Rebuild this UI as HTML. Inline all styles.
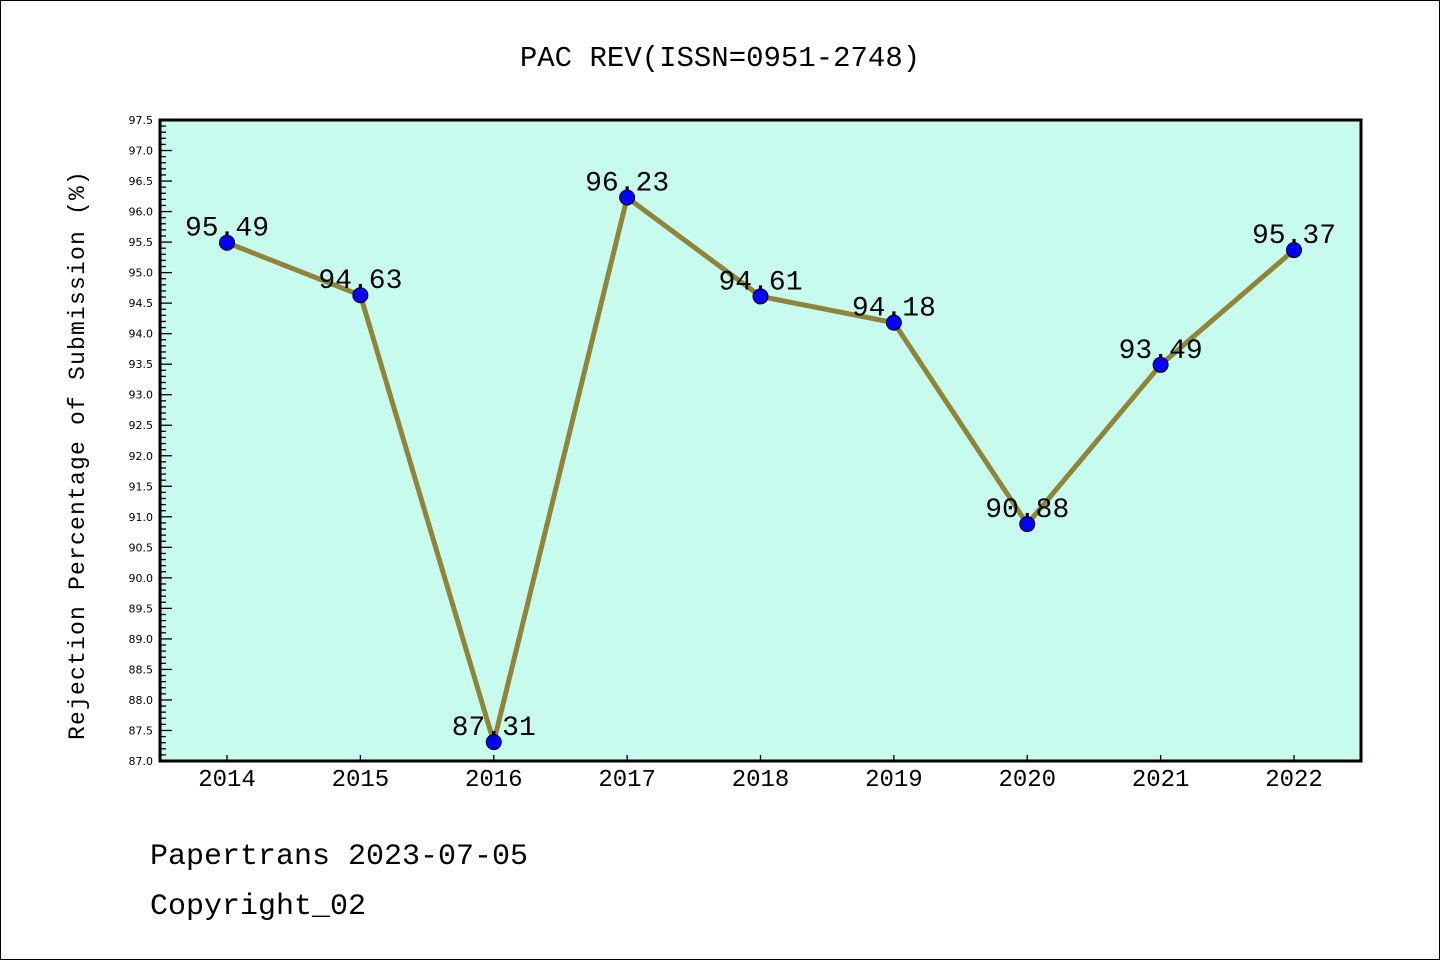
<!DOCTYPE html>
<html><head><meta charset="utf-8"><style>
html,body{margin:0;padding:0;background:#fff}
svg{display:block}
text{font-family:"Liberation Mono","WenQuanYi Zen Hei",monospace}
</style></head><body>
<svg id="chart" width="1440" height="960" viewBox="0 0 1440 960" xmlns="http://www.w3.org/2000/svg">
<rect x="0.5" y="0.5" width="1439" height="959" fill="#fff" stroke="#000" stroke-width="1"/>
<text x="720" y="66" text-anchor="middle" font-size="29">PAC REV(ISSN=0951-2748)</text>
<rect x="160" y="120" width="1201" height="641" fill="#c7fbee"/>
<g id="yticks"></g>
<g id="xticks"></g>
<g id="series"></g>
<rect x="160" y="120" width="1201" height="641" fill="none" stroke="#000" stroke-width="3"/>
<text transform="translate(84,455) rotate(-90)" text-anchor="middle" font-size="23" letter-spacing="1.2">Rejection Percentage of Submission (%)</text>
<text x="150" y="864" font-size="30">Papertrans 2023-07-05</text>
<text x="150" y="914" font-size="30">Copyright_02</text>
</svg>
<script>
const categories = ["2014","2015","2016","2017","2018","2019","2020","2021","2022"];
const values = [95.49,94.63,87.31,96.23,94.61,94.18,90.88,93.49,95.37];
const yTickLabels = ["87.0","87.5","88.0","88.5","89.0","89.5","90.0","90.5","91.0","91.5","92.0","92.5","93.0","93.5","94.0","94.5","95.0","95.5","96.0","96.5","97.0","97.5"];
const NS="http://www.w3.org/2000/svg";
const yMin=87, yMax=97.5, plotTop=120, plotBot=761;
function yScale(v){return plotBot-(v-yMin)/(yMax-yMin)*(plotBot-plotTop);}
function xScale(i){return 227+i*(1294-227)/(categories.length-1);}
function mk(tag,attrs,parent){const e=document.createElementNS(NS,tag);for(const k in attrs)e.setAttribute(k,attrs[k]);parent.appendChild(e);return e;}
const yg=document.getElementById('yticks'), xg=document.getElementById('xticks'), sg=document.getElementById('series');
for(let t=0;t<=Math.round((yMax-yMin)*10);t++){
  const v=yMin+t/10, yy=yScale(v), major=t%5===0;
  const l=mk('line',{x1:160,x2:major?172:166,y1:yy,y2:yy,stroke:'#000','stroke-width':1.3},yg);
  
  
}
yTickLabels.forEach(s=>{
  const t=mk('text',{x:153,y:yScale(parseFloat(s))+4,'text-anchor':'end','font-size':11,style:'font-family:"DejaVu Sans",sans-serif'},yg);
  t.textContent=s;
  
  
});
categories.forEach((c,i)=>{
  const l=mk('line',{x1:xScale(i),x2:xScale(i),y1:plotBot,y2:plotBot-6,stroke:'#000','stroke-width':1.3},xg);
  
  
  const t=mk('text',{x:xScale(i),y:786,'text-anchor':'middle','font-size':24},xg);
  t.textContent=c;
  
  
});
const pl=mk('polyline',{points:values.map((v,i)=>xScale(i)+','+yScale(v)).join(' '),fill:'none',stroke:'#8f8437','stroke-width':5,'stroke-linejoin':'round'},sg);


values.forEach((v,i)=>{
  const c=mk('circle',{cx:xScale(i),cy:yScale(v),r:7.5,fill:'#0000ff',stroke:'#000','stroke-width':1},sg);
  
  
  const t=mk('text',{x:xScale(i),y:yScale(v)-7,'text-anchor':'middle','font-size':28},sg);
  t.textContent=v.toFixed(2);
  
  
});
</script>
</body></html>
